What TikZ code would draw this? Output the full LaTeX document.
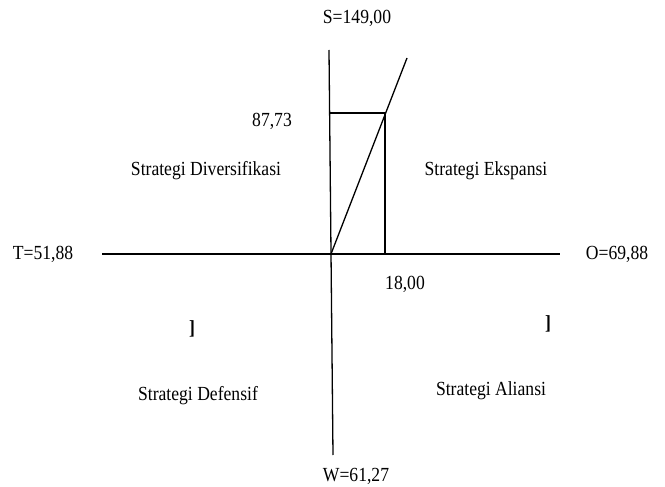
\documentclass[tikz,border=0pt]{standalone}
\usepackage{fontspec}
\setmainfont{Liberation Serif}[FakeStretch=0.88]
\begin{document}
\begin{tikzpicture}[x=1pt,y=-1pt,
  lbl/.style={inner sep=0pt,font=\fontsize{20}{24}\selectfont},
  axis/.style={line width=1.3pt,black}]
\useasboundingbox (0,0) rectangle (665,487);
\coordinate (o) at (331,254);
\coordinate (l) at (102,254);
\coordinate (r) at (560,254);
\coordinate (t) at (329,50);
\coordinate (b) at (333,455);
\coordinate (d) at (407,58);
\coordinate (rt) at (385,113);
\coordinate (lt) at (329.7,113);
\coordinate (rb) at (385,254);
\draw[axis] (l) -- (r);
\draw[axis] (t) -- (b);
\draw[axis] (o) -- (d);
\draw[axis] (lt) -- (rt) -- (rb);
\node[lbl] (S) at (357,18) {S=149,00};
\node[lbl] (T) at (43,254) {T=51,88};
\node[lbl] (O) at (617,254) {O=69,88};
\node[lbl] (W) at (356,476) {W=61,27};
\node[lbl] (y) at (272,121) {87,73};
\node[lbl] (x) at (405,284) {18,00};
\node[lbl] (q1) at (206,171) {Strategi Diversifikasi};
\node[lbl] (q2) at (486,171) {Strategi Ekspansi};
\node[lbl] (q3) at (198,396) {Strategi Defensif};
\node[lbl] (q4) at (491,391) {Strategi Aliansi};
\node[lbl] (m1) at (192,329) {\textbf{]}};
\node[lbl] (m2) at (548,324) {\textbf{]}};
\end{tikzpicture}
\end{document}
